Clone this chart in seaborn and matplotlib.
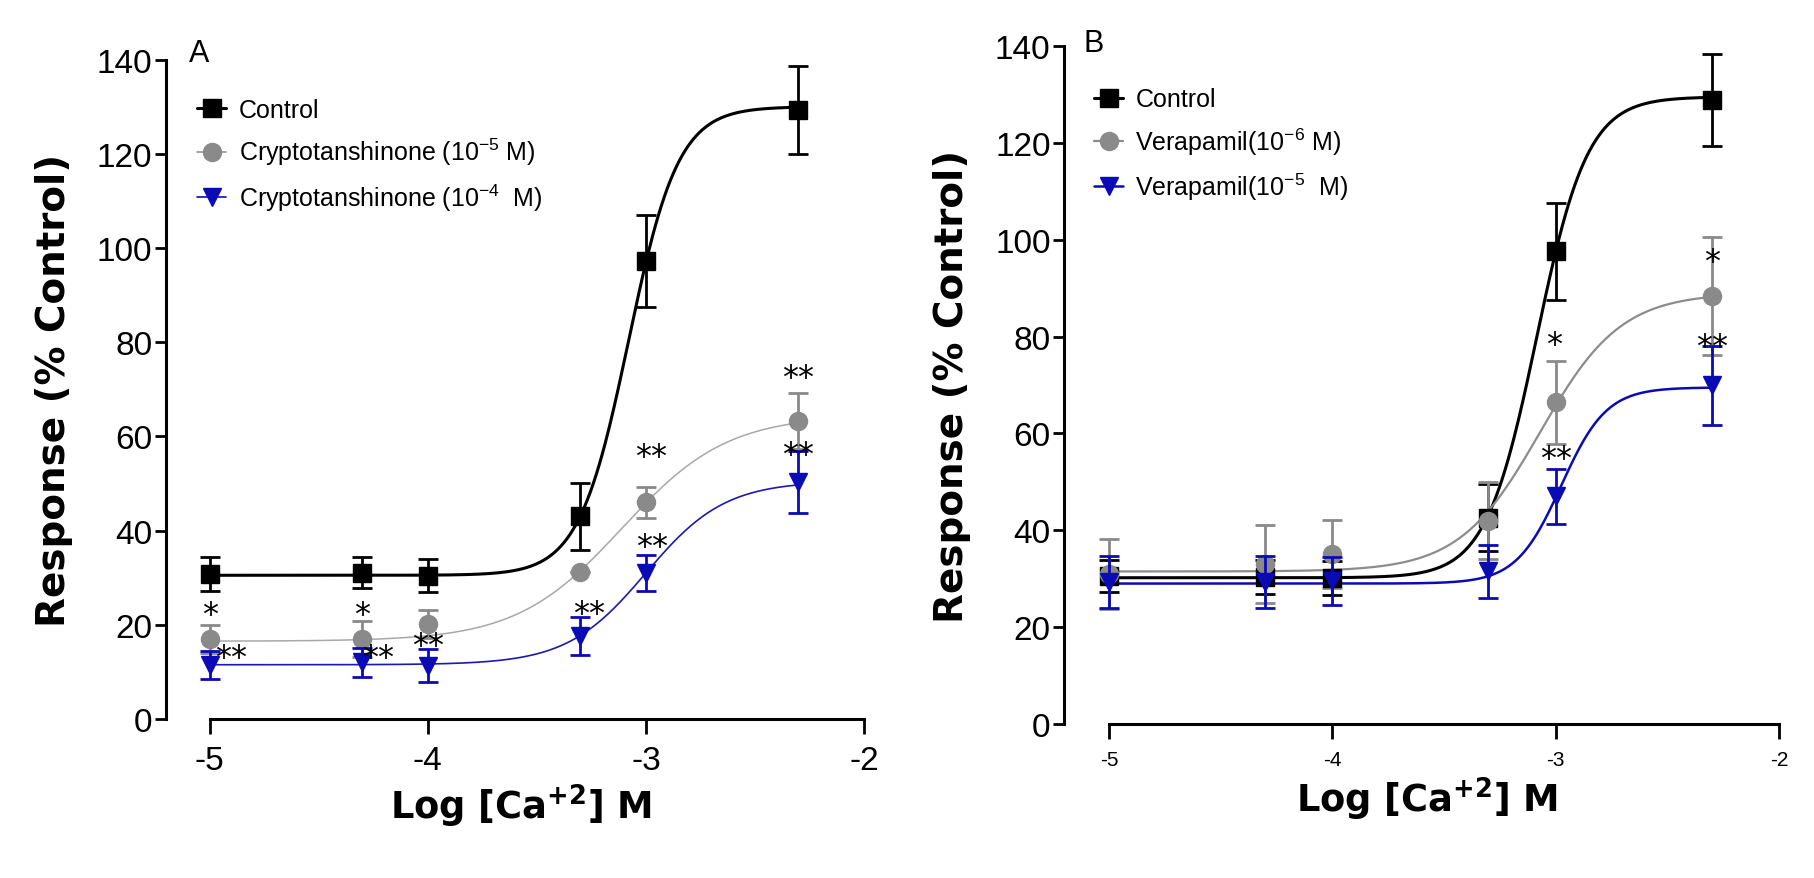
import numpy as np
import pandas as pd
import matplotlib
matplotlib.use("Agg")
import matplotlib.pyplot as plt
from matplotlib.lines import Line2D
import seaborn as sns

sns.set_theme(style='ticks')
plt.rcParams['font.family'] = ['Liberation Sans', 'DejaVu Sans']
plt.rcParams['mathtext.fontset'] = 'dejavusans'
plt.rcParams['text.color'] = 'black'
plt.rcParams['axes.labelcolor'] = 'black'

# log [Ca2+] concentrations
log_ca = [-5, -4.301, -4, -3.301, -3, -2.301]

# panel A
a_labels = ['Control', 'Cryptotanshinone (10$^{\\mathregular{-5}}$ M)',
            'Cryptotanshinone (10$^{\\mathregular{-4}}$  M)']
a_control = [30.8, 31.0, 30.4, 43.0, 97.3, 129.3]
a_control_err = [3.6, 3.3, 3.5, 7.2, 9.8, 9.4]
a_crypto5 = [17.0, 16.9, 20.1, 31.3, 46.0, 63.3]
a_crypto5_err = [3.0, 3.8, 3.0, 0.0, 3.3, 6.0]
a_crypto4 = [11.5, 12.0, 11.3, 17.6, 31.0, 50.3]
a_crypto4_err = [3.0, 3.0, 3.5, 4.0, 3.9, 6.6]
# fitted curves: bottom, top, logEC50, hill
a_fits = [(30.5, 130.0, -3.08, 3.8), (16.5, 64.5, -3.11, 1.8), (11.5, 50.5, -3.0, 2.4)]
a_stars = [('*', -5, 23.3), ('*', -4.301, 23.3), ('**', -4.9, 14.1), ('**', -4.23, 14.1),
           ('**', -4.0, 16.8), ('**', -3.26, 23.5), ('**', -2.976, 56.8), ('**', -2.97, 37.7),
           ('**', -2.301, 73.6), ('**', -2.301, 57.3)]

# panel B
b_labels = ['Control', 'Verapamil(10$^{\\mathregular{-6}}$ M)', 'Verapamil(10$^{\\mathregular{-5}}$  M)']
b_control = [30.6, 30.3, 30.1, 42.6, 97.6, 128.8]
b_control_err = [3.3, 3.5, 3.5, 6.9, 10.0, 9.5]
b_vera6 = [31.0, 33.0, 35.1, 42.0, 66.4, 88.4]
b_vera6_err = [7.3, 8.0, 7.1, 8.0, 8.6, 12.2]
b_vera5 = [29.3, 29.3, 29.5, 31.5, 47.0, 69.9]
b_vera5_err = [5.3, 5.4, 5.0, 5.5, 5.7, 8.1]
b_fits = [(30.2, 129.5, -3.085, 3.8), (31.5, 89.0, -3.07, 2.4), (29.0, 69.5, -2.975, 4.3)]
b_stars = [('*', -3.007, 79.4), ('**', -3.0, 55.9), ('*', -2.301, 96.7), ('**', -2.301, 79.1)]

colors = ['black', '#8a8a8a', '#0b0bb5']
markers = ['s', 'o', 'v']
STAR_FS = 23


def logistic(x, bottom, top, logec50, hill):
    return bottom + (top - bottom) / (1 + 10 ** ((logec50 - x) * hill))


def draw_panel(ax, series, errs, fits, curve_colors, curve_lw, labels, stars, letter,
               letter_pos, xtick_size, leg_anchor):
    xs = np.linspace(log_ca[0], log_ca[-1], 400)
    # grey, blue, then control on top
    for i in [1, 2, 0]:
        curve = pd.DataFrame({'x': xs, 'y': logistic(xs, *fits[i])})
        sns.lineplot(data=curve, x='x', y='y', ax=ax, color=curve_colors[i],
                     lw=curve_lw[i], legend=False, zorder=2 + i * 0.1, clip_on=False)
        ax.errorbar(log_ca, series[i], yerr=errs[i], fmt=markers[i], color=colors[i],
                    ms=13, elinewidth=2, capsize=7, capthick=2, zorder=3 + i * 0.1,
                    clip_on=False)
    for s, x, y in stars:
        ax.annotate(s, (x, y), xytext=(0, -10), textcoords='offset points',
                    ha='center', va='baseline', fontsize=STAR_FS, family='DejaVu Sans',
                    color='black', zorder=5)

    ax.set_xlim(-5.2, -1.95)
    ax.set_ylim(0, 140)
    ax.set_xticks([-5, -4, -3, -2])
    ax.set_xticklabels(['-5', '-4', '-3', '-2'])
    ax.set_yticks(range(0, 141, 20))
    sns.despine(ax=ax)
    ax.spines['left'].set_bounds(0, 140)
    ax.spines['bottom'].set_bounds(-5, -2)
    for sp in ['left', 'bottom']:
        ax.spines[sp].set_linewidth(2.2)
        ax.spines[sp].set_color('black')
    ax.tick_params(axis='y', labelsize=24, width=2, length=8, colors='black', pad=2)
    ax.tick_params(axis='x', labelsize=xtick_size, width=2, length=11, colors='black', pad=8)
    ax.set_xlabel('Log [Ca$^{\\mathbf{+2}}$] M', fontsize=26.5, fontweight='bold',
                  family='DejaVu Sans', labelpad=4)
    ax.set_ylabel('Response (% Control)', fontsize=28, fontweight='bold',
                  family='DejaVu Sans', labelpad=17)
    ax.text(letter_pos[0], letter_pos[1], letter, transform=ax.transAxes, fontsize=22,
            ha='center', va='center')

    handles = [Line2D([], [], color=colors[i], lw=curve_lw[i], marker=markers[i], ms=13)
               for i in range(3)]
    ax.legend(handles, labels, loc='upper left', bbox_to_anchor=leg_anchor, frameon=False,
              fontsize=18, handlelength=1.15, handletextpad=0.5, labelspacing=0.56,
              borderpad=0, borderaxespad=0)


fig = plt.figure(figsize=(18.15, 8.79), dpi=100)
ax_a = fig.add_axes([0.0915, 0.181, 0.3906, 0.750])
ax_b = fig.add_axes([0.5865, 0.1752, 0.3998, 0.7713])

draw_panel(ax_a, [a_control, a_crypto5, a_crypto4],
           [a_control_err, a_crypto5_err, a_crypto4_err], a_fits,
           ['black', '#a8a8a8', '#1a1ab0'], [2.2, 1.1, 1.2], a_labels, a_stars, 'A',
           (0.047, 1.01), 24, (0.044, 0.942))
draw_panel(ax_b, [b_control, b_vera6, b_vera5],
           [b_control_err, b_vera6_err, b_vera5_err], b_fits,
           ['black', '#8c8c8c', '#0b0bb5'], [2.2, 1.6, 1.8], b_labels, b_stars, 'B',
           (0.04, 1.005), 15, (0.041, 0.939))

fig.savefig('out.png', dpi=100)
